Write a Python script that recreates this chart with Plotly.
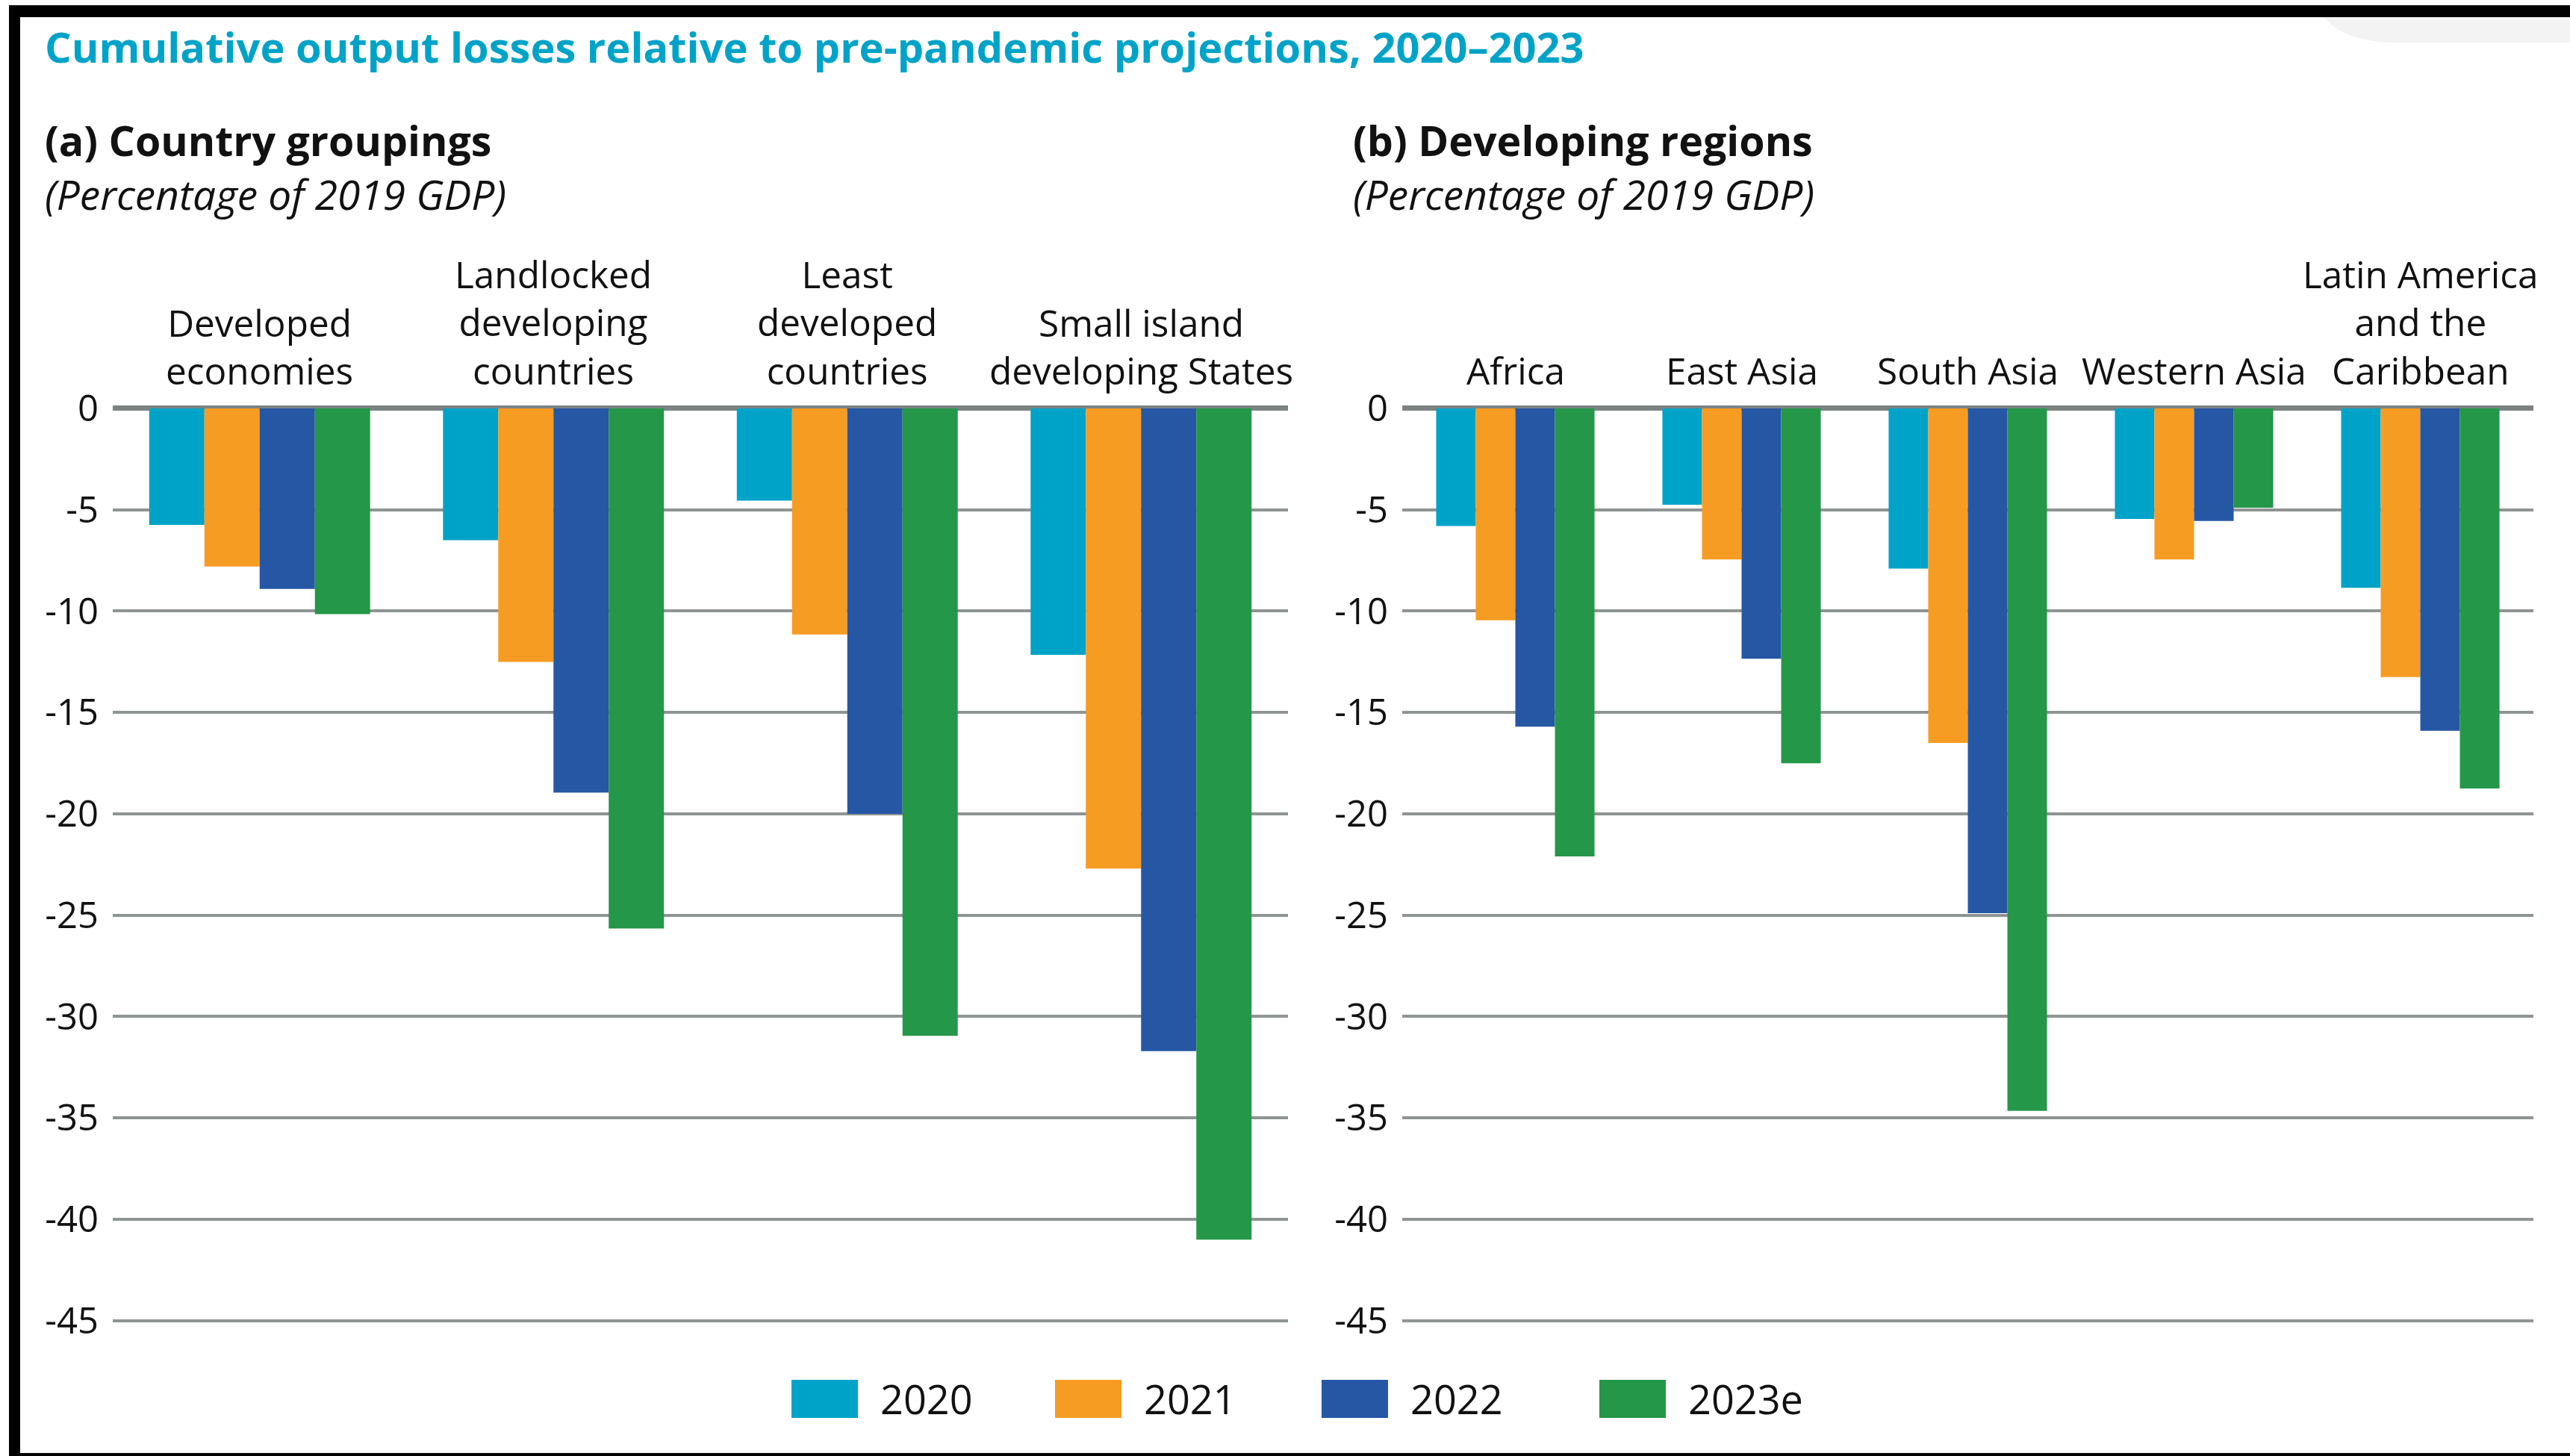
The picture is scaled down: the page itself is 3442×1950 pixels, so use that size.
import plotly.graph_objects as go

W, H = 3442, 1950

# ---------------- data ----------------
series = ["2020", "2021", "2022", "2023e"]
colors = ["#00A3C8", "#F69C22", "#2557A5", "#259748"]

categories_a = ["Developed economies", "Landlocked developing countries",
                "Least developed countries", "Small island developing States"]
labels_a = ["Developed<br>economies", "Landlocked<br>developing<br>countries",
            "Least<br>developed<br>countries", "Small island<br>developing States"]
values_a_2020 = [-5.75, -6.5, -4.55, -12.15]
values_a_2021 = [-7.8, -12.5, -11.15, -22.7]
values_a_2022 = [-8.9, -18.95, -20.0, -31.7]
values_a_2023 = [-10.15, -25.65, -30.95, -41.0]

categories_b = ["Africa", "East Asia", "South Asia", "Western Asia",
                "Latin America and the Caribbean"]
labels_b = ["Africa", "East Asia", "South Asia", "Western Asia",
            "Latin America<br>and the<br>Caribbean"]
values_b_2020 = [-5.8, -4.75, -7.9, -5.45, -8.85]
values_b_2021 = [-10.45, -7.45, -16.5, -7.45, -13.25]
values_b_2022 = [-15.7, -12.35, -24.9, -5.55, -15.9]
values_b_2023 = [-22.1, -17.5, -34.65, -4.9, -18.75]

tick_vals = [0, -5, -10, -15, -20, -25, -30, -35, -40, -45]
tick_text = ["0", "-5", "-10", "-15", "-20", "-25", "-30", "-35", "-40", "-45"]

title_text = "Cumulative output losses relative to pre-pandemic projections, 2020\u20132023"
panel_a_title = "(a) Country groupings"
panel_b_title = "(b) Developing regions"
unit_text = "(Percentage of 2019 GDP)"

# ---------------- layout helpers ----------------
def fx(px):
    return px / W

def fy(px):
    return 1 - px / H

FONT = "Open Sans"
TXT = "#111111"
GRID = "#8f9494"

y_top, y_bot = 0.35, -45.4
zero_px, unit_px = 547, 27.15
dom_top = zero_px - y_top * unit_px
dom_bot = zero_px - y_bot * unit_px

fig = go.Figure()

vals_a = [values_a_2020, values_a_2021, values_a_2022, values_a_2023]
vals_b = [values_b_2020, values_b_2021, values_b_2022, values_b_2023]
wa, wb = 0.188, 0.175
for i, (s, c) in enumerate(zip(series, colors)):
    fig.add_trace(go.Bar(x=categories_a, y=vals_a[i], name=s, marker_color=c,
                         marker_line_width=0, width=wa, offset=-2 * wa + i * wa,
                         xaxis="x", yaxis="y", showlegend=False))
    fig.add_trace(go.Bar(x=categories_b, y=vals_b[i], name=s, marker_color=c,
                         marker_line_width=0, width=wb, offset=-2 * wb + i * wb,
                         xaxis="x2", yaxis="y2", showlegend=False))

yaxis_common = dict(range=[y_bot, y_top], domain=[fy(dom_bot), fy(dom_top)],
                    tickvals=tick_vals, ticktext=tick_text, showgrid=True,
                    gridcolor=GRID, gridwidth=4, zeroline=True, zerolinecolor="#7d8383",
                    zerolinewidth=7, showline=False, ticks="", ticklabelstandoff=18,
                    automargin=False,
                    tickfont=dict(family=FONT, size=49, color=TXT), fixedrange=True)
xaxis_common = dict(showticklabels=False, showgrid=False, zeroline=False, showline=False,
                    ticks="", automargin=False, fixedrange=True)

fig.update_layout(
    width=W, height=H,
    margin=dict(l=0, r=0, t=0, b=0, pad=0, autoexpand=False),
    paper_bgcolor="white", plot_bgcolor="white",
    barmode="overlay",
    xaxis=dict(domain=[fx(151), fx(1725)], range=[-0.5, 3.5], anchor="y", **xaxis_common),
    xaxis2=dict(domain=[fx(1878), fx(3393)], range=[-0.5, 4.5], anchor="y2", **xaxis_common),
    yaxis=dict(anchor="x", **yaxis_common),
    yaxis2=dict(anchor="x2", **yaxis_common),
    showlegend=False,
)

ann = []
# chart title
ann.append(dict(text="<b>" + title_text + "</b>", x=fx(58), y=fy(62), xref="paper", yref="paper",
                xanchor="left", yanchor="middle", showarrow=False,
                font=dict(family=FONT, size=56, color="#00A3C8")))
for xl, t in [(58, panel_a_title), (1810, panel_b_title)]:
    ann.append(dict(text="<b>" + t + "</b>", x=fx(xl), y=fy(187), xref="paper", yref="paper",
                    xanchor="left", yanchor="middle", showarrow=False,
                    font=dict(family=FONT, size=55.5, color=TXT)))
    ann.append(dict(text="<i>" + unit_text + "</i>", x=fx(xl), y=fy(259), xref="paper", yref="paper",
                    xanchor="left", yanchor="middle", showarrow=False,
                    font=dict(family=FONT, size=55, color=TXT)))
# category labels above groups
for cats, labs, xr in [(categories_a, labels_a, "x"), (categories_b, labels_b, "x2")]:
    for c, l in zip(cats, labs):
        ann.append(dict(text=l, x=c, y=fy(532), xref=xr, yref="paper",
                        xanchor="center", yanchor="bottom", showarrow=False,
                        align="center", font=dict(family=FONT, size=49.5, color=TXT)))

# legend (manual, large swatches)
shapes = []
leg_sw = [1060, 1413, 1770, 2142]
for s, c, x0 in zip(series, colors, leg_sw):
    shapes.append(dict(type="rect", xref="paper", yref="paper", x0=fx(x0), x1=fx(x0 + 89),
                       y0=fy(1899), y1=fy(1848), fillcolor=c, line=dict(width=0)))
    ann.append(dict(text=s, x=fx(x0 + 117), y=fy(1873), xref="paper", yref="paper",
                    xanchor="left", yanchor="middle", showarrow=False,
                    font=dict(family=FONT, size=54, color=TXT)))

# faint page shadow at top-right
shadow = "M {:.5f},{:.5f} Q {:.5f},{:.5f} {:.5f},{:.5f} L 1,{:.5f} L 1,{:.5f} Z".format(
    fx(3112), fy(23), fx(3140), fy(57), fx(3210), fy(57), fy(57), fy(23))
shapes.append(dict(type="path", xref="paper", yref="paper", path=shadow,
                   fillcolor="#f3f3f3", line=dict(width=0), layer="below"))

# black frame
shapes.append(dict(type="rect", xref="paper", yref="paper", x0=fx(12), x1=1,
                   y0=fy(23), y1=fy(7), fillcolor="black", line=dict(width=0), layer="above"))
shapes.append(dict(type="rect", xref="paper", yref="paper", x0=fx(12), x1=fx(27),
                   y0=0, y1=fy(7), fillcolor="black", line=dict(width=0), layer="above"))
shapes.append(dict(type="rect", xref="paper", yref="paper", x0=fx(12), x1=1,
                   y0=0, y1=fy(1946), fillcolor="black", line=dict(width=0), layer="above"))

fig.update_layout(annotations=ann, shapes=shapes)

fig.write_html("out.html", config={"displayModeBar": False},
               post_script="document.body.style.margin='0';document.body.style.overflow='hidden';")
